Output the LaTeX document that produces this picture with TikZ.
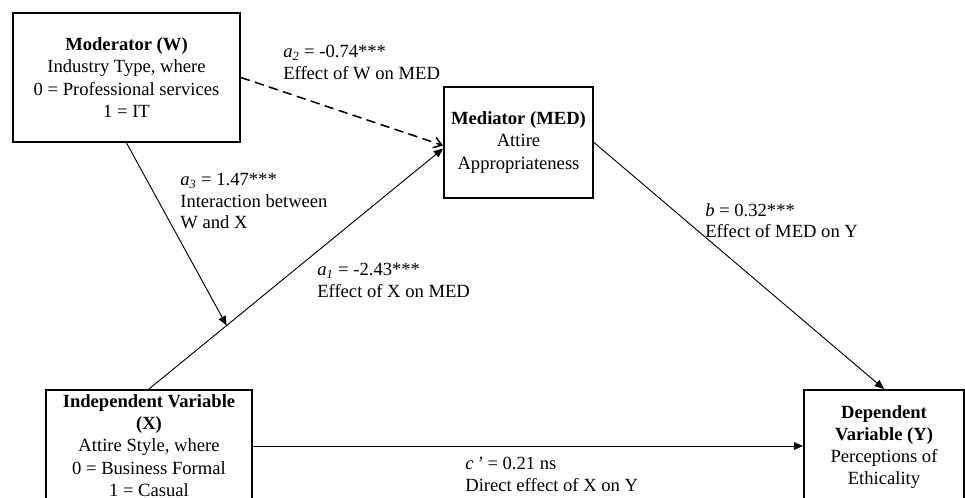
\documentclass[tikz,border=0pt]{standalone}
\usepackage{fontspec}
\setmainfont{Liberation Serif}
\usepackage{tikz}
\usetikzlibrary{arrows.meta, calc}
\newcommand{\pxu}{0.645pt}

\begin{document}
\begin{tikzpicture}[
  x=0.645pt, y=-0.645pt,
  every node/.style={font=\fontsize{12}{14.3}\selectfont},
  varbox/.style={rectangle, draw, line width=1.2pt, align=center, inner sep=0pt},
  lbl/.style={anchor=north west, align=left, inner sep=0pt,
              font=\fontsize{12}{13.9}\selectfont},
  arr/.style={-{Triangle[length=6pt,width=5pt]}, line width=0.6pt},
  modarr/.style={-{Straight Barb[length=5pt,width=7pt]}, line width=1pt,
                 dash pattern=on 6pt off 3.5pt}
]
\clip (0,0) rectangle (965,498);
% Variable boxes
\node[varbox, minimum width=227*\pxu, minimum height=129*\pxu] (W) at (126.5,77.5)
  {\textbf{Moderator (W)}\\Industry Type, where\\0 = Professional services\\1 = IT};
\node[varbox, minimum width=149*\pxu, minimum height=111*\pxu] (MED) at (518.5,142.5)
  {\textbf{Mediator (MED)}\\Attire\\Appropriateness};
\node[varbox, anchor=north, minimum width=206*\pxu, inner ysep=3pt] (X) at (149,389)
  {\textbf{Independent Variable}\\\textbf{(X)}\\Attire Style, where\\0 = Business Formal\\1 = Casual\rule[-12pt]{0pt}{0pt}};
\node[varbox, anchor=north, minimum width=160*\pxu, inner ysep=10pt] (Y) at (884,389)
  {\textbf{Dependent}\\\textbf{Variable (Y)}\\Perceptions of\\Ethicality};
\coordinate (cline) at (0,446);

% Paths
\draw[modarr] (W.east) -- ($(MED.west)+(0,3)$);
\draw[arr] (X.north) -- coordinate[pos=0.264] (xw) ($(MED.west)+(0,6)$);
\draw[arr] (W.south) -- (xw);
\draw[arr] (MED.east) -- (Y.north);
\draw[arr] (X.east |- cline) -- (Y.west |- cline);

% Coefficients
\node[lbl] (la2) at (283,45) {\textit{a}\textsubscript{\textit{2}} = -0.74***\\Effect of W on MED};
\node[lbl] (la3) at (180,173) {\textit{a}\textsubscript{\textit{3}} = 1.47***\\Interaction between\\W and X};
\node[lbl] (la1) at (317,263) {\textit{a}\textsubscript{\textit{1}} = -2.43***\\Effect of X on MED};
\node[lbl] (lb) at (705,203) {\textit{b} = 0.32***\\Effect of MED on Y};
\node[lbl] (lc) at (465,457) {\textit{c\,’} = 0.21 ns\\Direct effect of X on Y};
\end{tikzpicture}
\end{document}
